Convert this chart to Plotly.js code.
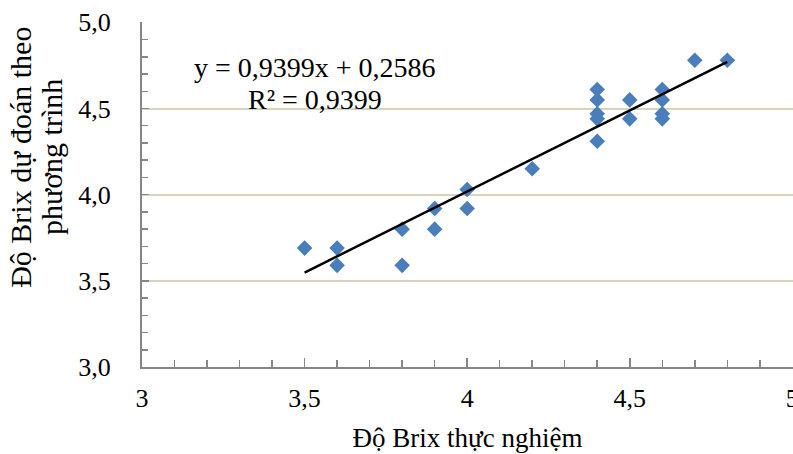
<!DOCTYPE html>
<html>
<head>
<meta charset="utf-8">
<script src="https://cdn.plot.ly/plotly-3.0.1.min.js"></script>
<style>html,body{margin:0;padding:0;background:#fff;}#chart{width:793px;height:454px;}</style>
</head>
<body>
<div id="chart"></div>
<script>
// Measured Brix (x) vs Brix predicted by the equation (y)
const measuredBrix = [3.5, 3.6, 3.6, 3.8, 3.8, 3.9, 3.9, 4.0, 4.0, 4.2,
                      4.4, 4.4, 4.4, 4.4, 4.4, 4.5, 4.5, 4.6, 4.6, 4.6, 4.6, 4.7, 4.8];
const predictedBrix = [3.69, 3.69, 3.59, 3.80, 3.59, 3.92, 3.80, 4.03, 3.92, 4.15,
                       4.61, 4.55, 4.47, 4.44, 4.31, 4.55, 4.44, 4.61, 4.55, 4.47, 4.44, 4.78, 4.78];
// Linear trendline shown on the chart
const slope = 0.9399;
const intercept = 0.2586;
const rSquared = 0.9399;
const xTickVals = [3, 3.5, 4, 4.5, 5];
const xTickText = ['3', '3,5', '4', '4,5', '5'];
const yTickVals = [3, 3.5, 4, 4.5, 5];
const yTickText = ['3,0', '3,5', '4,0', '4,5', '5,0'];
const xTitle = 'Độ Brix thực nghiệm';
const yTitleLines = ['Độ Brix dự đoán theo', 'phương trình'];

const fmt = v => v.toFixed(4).replace('.', ',');
const xMin = Math.min(...measuredBrix), xMax = Math.max(...measuredBrix);
const trendX = [xMin, xMax];
const trendY = trendX.map(x => slope * x + intercept);

const FONT = 'Liberation Serif, Times New Roman, serif';
const AXIS_GREY = '#868686';

const data = [
  {
    x: measuredBrix, y: predictedBrix, type: 'scatter', mode: 'markers',
    marker: {symbol: 'diamond', size: 12, color: '#4a7ebb', line: {width: 0}},
    hoverinfo: 'x+y'
  },
  {
    x: trendX, y: trendY, type: 'scatter', mode: 'lines',
    line: {color: '#000000', width: 2.5}, hoverinfo: 'skip'
  }
];

const layout = {
  width: 793, height: 454,
  margin: {l: 142, r: 0, t: 22, b: 87},
  paper_bgcolor: '#ffffff', plot_bgcolor: '#ffffff',
  showlegend: false,
  font: {family: FONT, size: 26, color: '#000'},
  xaxis: {
    range: [3, 5.002], autorange: false,
    tickvals: xTickVals, ticktext: xTickText,
    ticks: 'inside', ticklen: 9, tickwidth: 1.5, tickcolor: AXIS_GREY,
    minor: {dtick: 0.1, ticks: 'inside', ticklen: 7, tickwidth: 1.5, tickcolor: AXIS_GREY, showgrid: false},
    showline: true, linecolor: AXIS_GREY, linewidth: 2,
    showgrid: false, zeroline: false,
    tickfont: {family: FONT, size: 26, color: '#000'},
    ticklabeloverflow: 'allow',
    ticklabelstandoff: 7,
    title: {text: xTitle, font: {family: FONT, size: 27, color: '#000'}, standoff: 16}
  },
  yaxis: {
    range: [3, 5.002], autorange: false,
    tickvals: yTickVals, ticktext: yTickText,
    ticks: 'inside', ticklen: 7, tickwidth: 1.5, tickcolor: AXIS_GREY,
    minor: {dtick: 0.1, ticks: 'inside', ticklen: 6, tickwidth: 1.5, tickcolor: AXIS_GREY, showgrid: false},
    showline: true, linecolor: AXIS_GREY, linewidth: 2,
    showgrid: true, gridcolor: '#d9d3bd', gridwidth: 2,
    zeroline: false,
    tickfont: {family: FONT, size: 26, color: '#000'},
    ticklabelstandoff: 24
  },
  annotations: [
    {xref: 'paper', yref: 'paper', x: 0.266, y: 0.867, xanchor: 'center', yanchor: 'middle',
     text: 'y = ' + fmt(slope) + 'x + ' + fmt(intercept), showarrow: false,
     font: {family: FONT, size: 28, color: '#000'}},
    {xref: 'paper', yref: 'paper', x: 0.266, y: 0.774, xanchor: 'center', yanchor: 'middle',
     text: 'R² = ' + fmt(rSquared), showarrow: false,
     font: {family: FONT, size: 28, color: '#000'}},
    {xref: 'paper', yref: 'paper', x: -0.186, y: 0.609, xanchor: 'center', yanchor: 'middle',
     textangle: -90, text: yTitleLines[0], showarrow: false,
     font: {family: FONT, size: 30, color: '#000'}},
    {xref: 'paper', yref: 'paper', x: -0.138, y: 0.609, xanchor: 'center', yanchor: 'middle',
     textangle: -90, text: yTitleLines[1], showarrow: false,
     font: {family: FONT, size: 30, color: '#000'}}
  ]
};

Plotly.newPlot('chart', data, layout, {displayModeBar: false, staticPlot: true});
</script>
</body>
</html>
